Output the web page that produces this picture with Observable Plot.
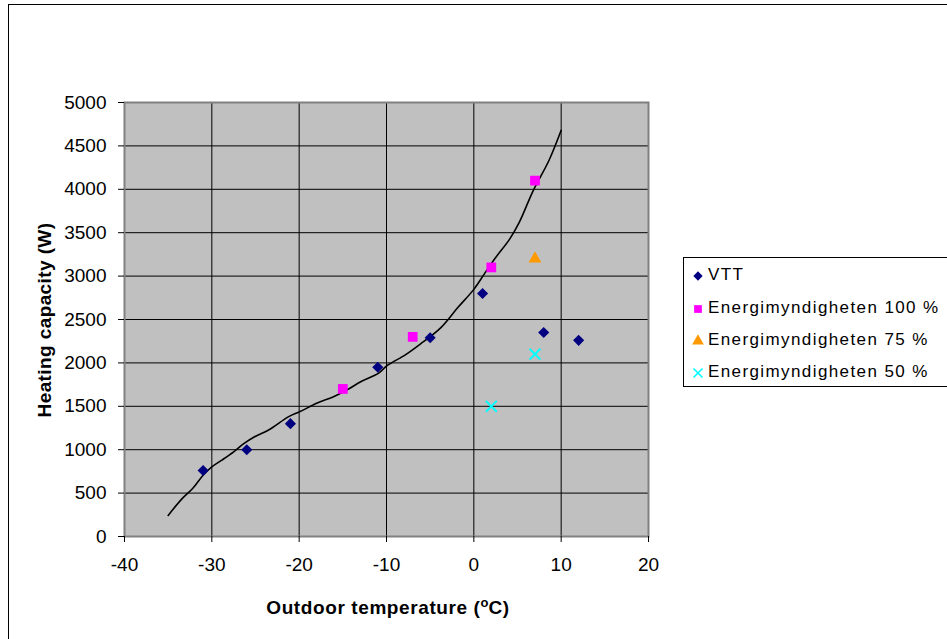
<!DOCTYPE html>
<html>
<head>
<meta charset="utf-8">
<script src="https://cdn.jsdelivr.net/npm/d3@7"></script>
<script src="https://cdn.jsdelivr.net/npm/@observablehq/plot@0.6"></script>
<style>
  html, body { margin: 0; padding: 0; background: #fff; }
  #wrap { position: relative; width: 947px; height: 639px; overflow: hidden; font-family: "Liberation Sans", Arial, sans-serif; }
  #border { position: absolute; left: 8px; top: 4px; width: 960px; height: 660px; border: 1px solid #000; box-sizing: border-box; }
  #chart { position: absolute; left: 0; top: 0; }
  .title { position: absolute; font-weight: bold; font-size: 19px; color: #000; white-space: nowrap; line-height: 1; }
  #xtitle { left: 388px; top: 606px; transform: translate(-50%, -50%); letter-spacing: 0.6px; }
  #ytitle { left: 44px; top: 320px; transform: translate(-50%, -50%) rotate(-90deg); letter-spacing: 0.4px; }
  #legend { position: absolute; left: 683px; top: 257px; width: 280px; height: 130px; border: 1px solid #000; box-sizing: border-box; background: #fff; }
  .row { position: absolute; left: 8px; height: 24px; display: flex; align-items: center; font-size: 17px; letter-spacing: 1.4px; color: #000; white-space: nowrap; }
  .row svg { margin-right: 3px; }
</style>
</head>
<body>
<div id="wrap">
  <div id="border"></div>
  <div id="chart"></div>
  <div id="xtitle" class="title">Outdoor temperature (<sup style="font-size:13px; vertical-align: 7px; letter-spacing:0">o</sup>C)</div>
  <div id="ytitle" class="title">Heating capacity (W)</div>
  <div id="legend"></div>
</div>
<script>
// Data
const vttTemp = [-31, -26, -21, -11, -5, 1, 8, 12];
const vttCap  = [760, 1000, 1300, 1950, 2290, 2800, 2350, 2260];

const em100Temp = [-15, -7, 2, 7];
const em100Cap  = [1700, 2300, 3100, 4100];

const em75Temp = [7];
const em75Cap  = [3200];

const em50Temp = [2, 7];
const em50Cap  = [1500, 2100];

// Trend curve
const curveTemp = [-35, -33.4, -32.2, -31, -30, -28.85, -27.5, -26.3, -25.1, -23.5, -21.2, -19.9, -18, -16, -14.5, -12.9, -10.9, -9.9, -7.8, -6.2, -3.8, -1.86, 0, 1.3, 2.5, 4.1, 5.2, 6.8, 8.6, 10];
const curveCap  = [243, 436, 552, 706, 802, 880, 976, 1073, 1150, 1227, 1381, 1439, 1535, 1613, 1690, 1786, 1883, 1971, 2095, 2211, 2404, 2635, 2847, 3040, 3214, 3426, 3619, 3985, 4332, 4680];

const xTicks = [-40, -30, -20, -10, 0, 10, 20];
const yTicks = [0, 500, 1000, 1500, 2000, 2500, 3000, 3500, 4000, 4500, 5000];

const seriesNames = ["VTT", "Energimyndigheten 100 %", "Energimyndigheten 75 %", "Energimyndigheten 50 %"];
const seriesColors = ["#000080", "#FF00FF", "#FF9900", "#00FFFF"];

const zip = (xs, ys) => xs.map((x, i) => ({x, y: ys[i]}));
const vtt = zip(vttTemp, vttCap);
const em100 = zip(em100Temp, em100Cap);
const em75 = zip(em75Temp, em75Cap);
const em50 = zip(em50Temp, em50Cap);
const curve = zip(curveTemp, curveCap);

const fmt = d => String(d);

const chart = Plot.plot({
  width: 947,
  height: 639,
  marginLeft: 124,
  marginRight: 299,
  marginTop: 102,
  marginBottom: 103,
  style: {fontFamily: "Liberation Sans, Arial, sans-serif", fontSize: "19px", color: "#000", background: "transparent"},
  x: {domain: [-40, 20], ticks: xTicks, label: null},
  y: {domain: [0, 5000], ticks: yTicks, label: null},
  marks: [
    Plot.frame({fill: "#C0C0C0", stroke: null}),
    Plot.gridX(xTicks, {stroke: "#000", strokeOpacity: 1, strokeWidth: 1}),
    Plot.gridY(yTicks, {stroke: "#000", strokeOpacity: 1, strokeWidth: 1}),
    Plot.frame({stroke: "#808080", strokeWidth: 2}),
    Plot.axisX(xTicks, {tickSize: 6, tickPadding: 15, fontSize: 19, stroke: "#000", fill: "#000", tickFormat: fmt, label: null}),
    Plot.axisY(yTicks, {tickSize: 6, tickPadding: 12, fontSize: 19, stroke: "#000", fill: "#000", tickFormat: fmt, label: null}),
    Plot.line(curve, {x: "x", y: "y", stroke: "#000", strokeWidth: 1.6, curve: "catmull-rom"}),
    Plot.dot(vtt, {x: "x", y: "y", symbol: "diamond2", r: 5, fill: seriesColors[0], stroke: null}),
    Plot.dot(em100, {x: "x", y: "y", symbol: "square", r: 5.5, fill: seriesColors[1], stroke: null}),
    Plot.dot(em75, {x: "x", y: "y", symbol: "triangle", r: 4.8, fill: seriesColors[2], stroke: null}),
    Plot.dot(em50, {x: "x", y: "y", symbol: "times", r: 5, fill: "none", stroke: seriesColors[3], strokeWidth: 2})
  ]
});
document.getElementById("chart").appendChild(chart);

// Legend
const legend = d3.select("#legend");
const symbols = [d3.symbolDiamond2, d3.symbolSquare, d3.symbolTriangle, d3.symbolTimes];
const sizes = [55, 60, 60, 55];
const rowCenters = [17, 50, 82, 114];
seriesNames.forEach((name, i) => {
  const row = legend.append("div").attr("class", "row").style("top", (rowCenters[i] - 12) + "px");
  const svg = row.append("svg").attr("width", 13).attr("height", 14);
  const path = svg.append("path")
    .attr("transform", "translate(6,8)")
    .attr("d", d3.symbol(symbols[i], sizes[i])());
  if (i === 3) path.attr("fill", "none").attr("stroke", seriesColors[i]).attr("stroke-width", 1.6);
  else path.attr("fill", seriesColors[i]);
  row.append("span").text(name);
});
</script>
</body>
</html>
